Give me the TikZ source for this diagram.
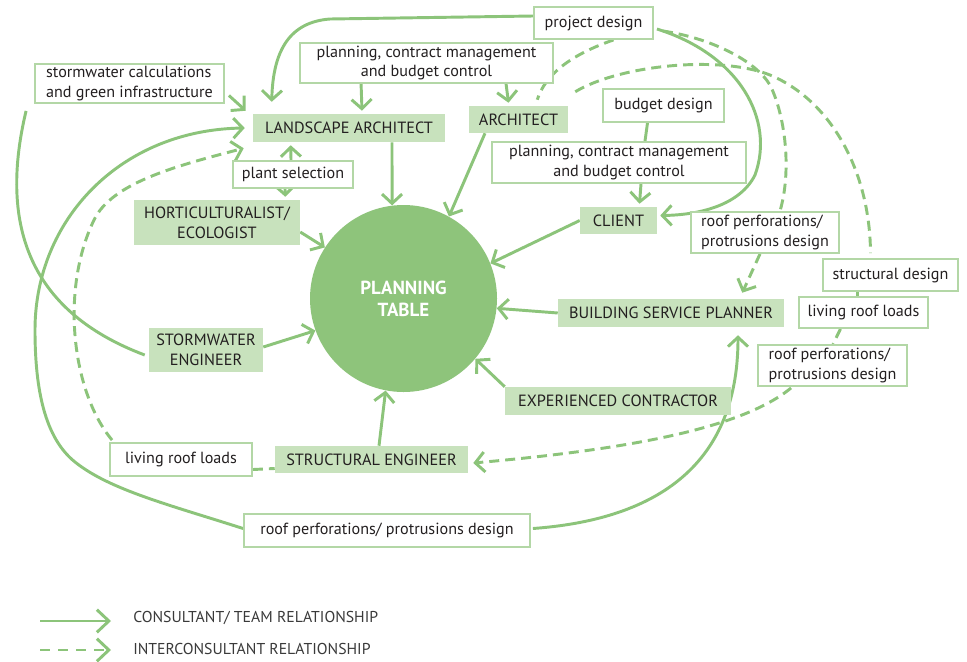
\documentclass[tikz,border=0pt]{standalone}
\usepackage{fontspec}
\setmainfont{PT Sans}
\usetikzlibrary{arrows.meta,calc,backgrounds}
\definecolor{lg}{HTML}{8CC47A}
\definecolor{bf}{HTML}{C8E2BD}
\definecolor{bo}{HTML}{B3D7A6}
\definecolor{cf}{HTML}{8EC47B}
\definecolor{tx}{HTML}{231F20}
\definecolor{legtx}{HTML}{3A3A3A}
\tikzset{
  role/.style={fill=bf, text=tx, inner sep=0pt, align=center, font=\fontsize{12.2}{15}\selectfont},
  lab/.style={draw=bo, line width=1.4pt, fill=white, text=tx, inner sep=0pt, align=center, font=\fontsize{12.1}{14.6}\selectfont},
  sz/.style 2 args={minimum width=#1*0.75pt, minimum height=#2*0.75pt},
  con/.style={draw=lg, line width=2.2pt},
  arr/.style={con, -{Straight Barb[length=7pt,width=15pt]}},
  dsh/.style={con, dash pattern=on 7.5pt off 4.5pt},
  darr/.style={dsh, -{Straight Barb[length=7pt,width=15pt]}},
  bigarr/.style={-{Straight Barb[length=9pt,width=17pt]}},
}
\begin{document}
\begin{tikzpicture}[x=0.75pt,y=-0.75pt]
\useasboundingbox (0,0) rectangle (967,661);

% planning table
\node[circle, fill=cf, minimum size=187*0.75pt, inner sep=0pt, text=white, align=center,
      font=\bfseries\fontsize{14.2}{16.5}\selectfont] (pt) at (403.5,298.5) {PLANNING\\TABLE};

% role nodes
\node[role, sz={192}{28}] (la) at (349,128) {LANDSCAPE ARCHITECT};
\node[role, sz={99}{27}] (arch) at (518.5,119.5) {ARCHITECT};
\node[role, sz={166}{45}] (hort) at (217,222.5) {HORTICULTURALIST/\\ECOLOGIST};
\node[role, sz={114}{44}] (swe) at (206,350) {STORMWATER\\ENGINEER};
\node[role, sz={193}{27}] (se) at (371.5,459.5) {STRUCTURAL ENGINEER};
\node[role, sz={226}{28}] (ec) at (618,401) {EXPERIENCED CONTRACTOR};
\node[role, sz={226}{28}] (bsp) at (671,313) {BUILDING SERVICE PLANNER};
\node[role, sz={77}{27}] (client) at (618.5,220.5) {CLIENT};

% label boxes
\node[lab, sz={119}{32}] (pd) at (593.5,23) {project design};
\node[lab, sz={253}{40}] (pcm1) at (426.5,63) {planning, contract management\\and budget control};
\node[lab, sz={189}{39}, align=left] (swc) at (129.5,83.5) {stormwater calculations\\and green infrastructure};
\node[lab, sz={120}{27}] (ps) at (293,174.5) {plant selection};
\node[lab, sz={121}{33}] (bd) at (663.5,105.5) {budget design};
\node[lab, sz={254}{41}] (pcm2) at (619,162.5) {planning, contract management\\and budget control};
\node[lab, sz={148}{41}, align=left] (rp1) at (765,232.5) {roof perforations/\\protrusions design};
\node[lab, sz={135}{32}] (sd) at (890.5,275) {structural design};
\node[lab, sz={129}{31}] (lrl1) at (863.5,312.5) {living roof loads};
\node[lab, sz={149}{41}, align=left] (rp2) at (832.5,365.5) {roof perforations/\\protrusions design};
\node[lab, sz={142}{33}] (lrl2) at (181,459.5) {living roof loads};
\node[lab, sz={286}{33}] (rp3) at (387,530.5) {roof perforations/ protrusions design};

\begin{pgfonlayer}{background}
\fill[white] (0,0) rectangle (967,661);
% top: project design -> landscape architect
\draw[arr] ($(pd.west)+(0,-7)$) -- (330,19) .. controls (290,22) and (273,50) .. ($(la.north west)+(19,-12)$);
\draw[arr] ($(pcm1.south west)+(62,0)$) -- ($(la.north)+(13,-3)$);
\draw[arr] ($(pcm1.south west)+(207,0)$) -- ($(arch.north)+(-10,-3)$);
\draw[arr] ($(swc.east)+(4,12)$) -- ($(la.north west)+(-7,-3)$);
\draw[con] ($(swc.south west)+(-8,7)$) .. controls (0,220) and (25,310) .. ($(swe.west)+(-4,5)$);
\draw[arr] ($(rp3.west)+(0,-2)$) .. controls (170,505) and (110,490) .. (75,462)
   .. controls (45,438) and (35,390) .. (35,330)
   .. controls (35,220) and (120,130) .. ($(la.west)+(-8,0)$);
\draw[darr] ($(lrl2.north west)+(3,-2)$) .. controls (72,392) and (60,290) .. (94,220)
   .. controls (112,182) and (180,165) .. ($(la.south west)+(-9,6)$);
\draw[dsh] ($(lrl2.east)+(0,10)$) -- ($(se.west)+(0,9)$);
\draw[arr] ($(ps.north)+(-2,0)$) -- ($(la.south west)+(38,3)$);
\draw[arr] ($(ps.south)+(-8,0)$) -- ($(hort.north east)+(-15,-3)$);
% into the planning table
\draw[arr] ($(la.south)+(43,0)$) -- (pt.97);
\draw[arr] ($(arch.south)+(-33.5,0)$) -- (pt.61);
\draw[arr] ($(hort.east)+(0,9.5)$) -- (pt.147);
\draw[arr] ($(swe.east)+(0,-3)$) -- (pt.200);
\draw[arr] ($(se.north)+(7.5,0)$) -- (pt.259);
\draw[arr] (ec.north west) -- (pt.-40);
\draw[arr] (bsp.west) -- (pt.-6);
\draw[arr] (client.west) -- (pt.22);
% project design -> client
\draw[arr] ($(pd.east)+(3,6)$) .. controls (740,55) and (775,120) .. (755,175)
   .. controls (740,205) and (700,215) .. ($(client.east)+(3,-5)$);
% dashed relations at the top right
\draw[dsh] ($(pd.south)+(20,0)$) .. controls (570,55) and (545,75) .. ($(arch.north east)+(-31,-6)$);
\draw[dsh] ($(arch.north east)+(7,-14)$) .. controls (620,65) and (720,55) .. (770,75)
   .. controls (830,100) and (870,170) .. ($(sd.north)+(-20,-5)$);
\draw[dsh] ($(pd.east)+(9,8)$) .. controls (710,38) and (755,60) .. (770,85)
   .. controls (785,115) and (792,170) .. ($(rp1.north)+(15,0)$);
\draw[darr] ($(rp1.south)+(-5,0)$) -- ($(bsp.north east)+(-42,-6)$);
\draw[dsh] ($(sd.south)+(-33,0)$) -- ($(lrl1.north)+(-6,0)$);
\draw[dsh] ($(lrl1.south)+(-23,0)$) -- ($(rp2.north)+(0.5,0)$);
\draw[darr] ($(rp2.south west)+(34,1)$) .. controls (740,430) and (620,450) .. ($(se.east)+(5,3.5)$);
% bottom roof perforations -> building service planner
\draw[arr] ($(rp3.east)+(2,-2)$) .. controls (650,520) and (738,470) .. ($(bsp.south)+(67,8)$);
% client column
\draw[con] ($(bd.south)+(-16,0)$) -- ($(pcm2.north)+(26,0)$);
\draw[arr] ($(pcm2.south)+(22,0)$) -- ($(client.north)+(21,-3)$);
\end{pgfonlayer}

% legend
\coordinate (s1) at (40,621);
\coordinate (e1) at (111,621);
\coordinate (s2) at (40,650);
\coordinate (e2) at (111,650);
\draw[con, bigarr] (s1) -- (e1);
\draw[con, dash pattern=on 7.5pt off 6pt, bigarr] (s2) -- (e2);
\node[anchor=west, text=legtx, inner sep=0pt, font=\fontsize{11.8}{13}\selectfont] (lg1) at (133,618) {CONSULTANT/ TEAM RELATIONSHIP};
\node[anchor=west, text=legtx, inner sep=0pt, font=\fontsize{11.8}{13}\selectfont] (lg2) at (133,649) {INTERCONSULTANT RELATIONSHIP};
\end{tikzpicture}
\end{document}
